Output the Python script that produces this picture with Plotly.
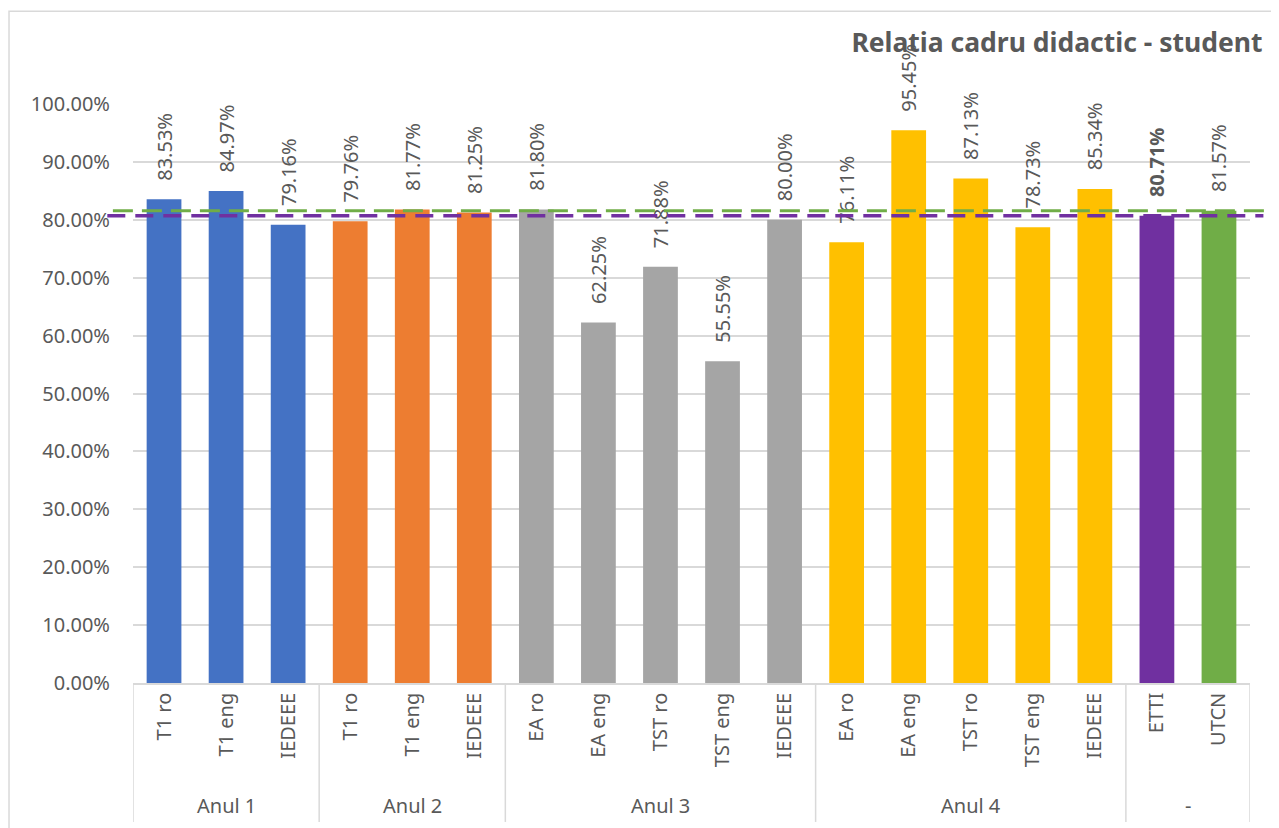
import plotly.graph_objects as go

groups = ["Anul 1", "Anul 2", "Anul 3", "Anul 4", "-"]
group_sizes = [3, 3, 5, 5, 2]
group_colors = ["#4472c4", "#ed7d31", "#a5a5a5", "#ffc000", None]

categories = ["T1 ro", "T1 eng", "IEDEEE",
              "T1 ro", "T1 eng", "IEDEEE",
              "EA ro", "EA eng", "TST ro", "TST eng", "IEDEEE",
              "EA ro", "EA eng", "TST ro", "TST eng", "IEDEEE",
              "ETTI", "UTCN"]
values = [0.8353, 0.8497, 0.7916,
          0.7976, 0.8177, 0.8125,
          0.8180, 0.6225, 0.7188, 0.5555, 0.8000,
          0.7611, 0.9545, 0.8713, 0.7873, 0.8534,
          0.8071, 0.8157]

etti_color = "#7030a0"
utcn_color = "#70ad47"
etti_avg = values[16]
utcn_avg = values[17]

txt = "#595959"
font = "Noto Sans"

# colours per bar
colors = []
for g, n in zip(group_colors, group_sizes):
    colors.extend([g] * n if g else [etti_color, utcn_color])

# nbsp padding pushes the rotated label away from the bar top
pad = "\u00a0" * 3
labels = [pad + f"{v:.2%}" for v in values]
labels[16] = pad + f"<b>{values[16]:.2%}</b>"

xs = list(range(len(categories)))

fig = go.Figure()
fig.add_trace(go.Bar(
    x=xs, y=values, marker=dict(color=colors, line=dict(width=0)),
    width=0.56, text=labels, textposition="outside", textangle=-90,
    constraintext="none",
    textfont=dict(size=20, color=txt, family=font), cliponaxis=False,
    showlegend=False, hoverinfo="skip"))

shapes = []
# group separators below the axis
edges = [-0.5]
for n in group_sizes:
    edges.append(edges[-1] + n)
for e in edges:
    shapes.append(dict(type="line", xref="x", yref="paper", x0=e, x1=e, y0=0, y1=-0.24,
                       line=dict(color="#d9d9d9", width=1.5)))
# chart border
shapes.append(dict(type="rect", xref="paper", yref="paper", x0=-0.111, x1=1.024, y0=-0.3, y1=1.16,
                   line=dict(color="#d9d9d9", width=1.5), layer="below"))
# average lines
shapes.append(dict(type="line", xref="paper", yref="y", x0=-0.018, x1=1.02, y0=utcn_avg, y1=utcn_avg,
                   line=dict(color=utcn_color, width=3, dash="20px,9px")))
shapes.append(dict(type="line", xref="paper", yref="y", x0=-0.023, x1=1.012, y0=etti_avg, y1=etti_avg,
                   line=dict(color=etti_color, width=3.5, dash="18px,10px")))

annotations = []
for i, (g, n) in enumerate(zip(groups, group_sizes)):
    mid = (edges[i] + edges[i + 1]) / 2
    annotations.append(dict(x=mid, y=-0.211, xref="x", yref="paper", text=g, showarrow=False,
                            font=dict(size=20, color=txt, family=font), yanchor="middle"))

fig.update_layout(
    width=1271, height=820,
    margin=dict(l=125, r=29, t=96, b=145),
    paper_bgcolor="white", plot_bgcolor="white",
    title=dict(text="<b>Relatia cadru didactic - student</b>", x=0.987, xanchor="right",
               y=0.958, yanchor="middle", font=dict(size=26.5, color=txt, family=font)),
    xaxis=dict(range=[-0.5, len(categories) - 0.5], tickvals=xs, ticktext=categories,
               tickangle=-90, tickfont=dict(size=20, color=txt, family=font),
               showgrid=False, showline=True, linecolor="#d9d9d9", linewidth=1.5,
               ticks="", zeroline=False, fixedrange=True, automargin=False),
    yaxis=dict(range=[0, 1.0], dtick=0.1, tickformat=".2%",
               tickfont=dict(size=20, color=txt, family=font),
               gridcolor="#d9d9d9", gridwidth=1.5, showline=False, zeroline=False,
               ticklabelstandoff=22, automargin=False),
    shapes=shapes, annotations=annotations,
    bargap=0.44,
)

fig.write_html("out.html")
